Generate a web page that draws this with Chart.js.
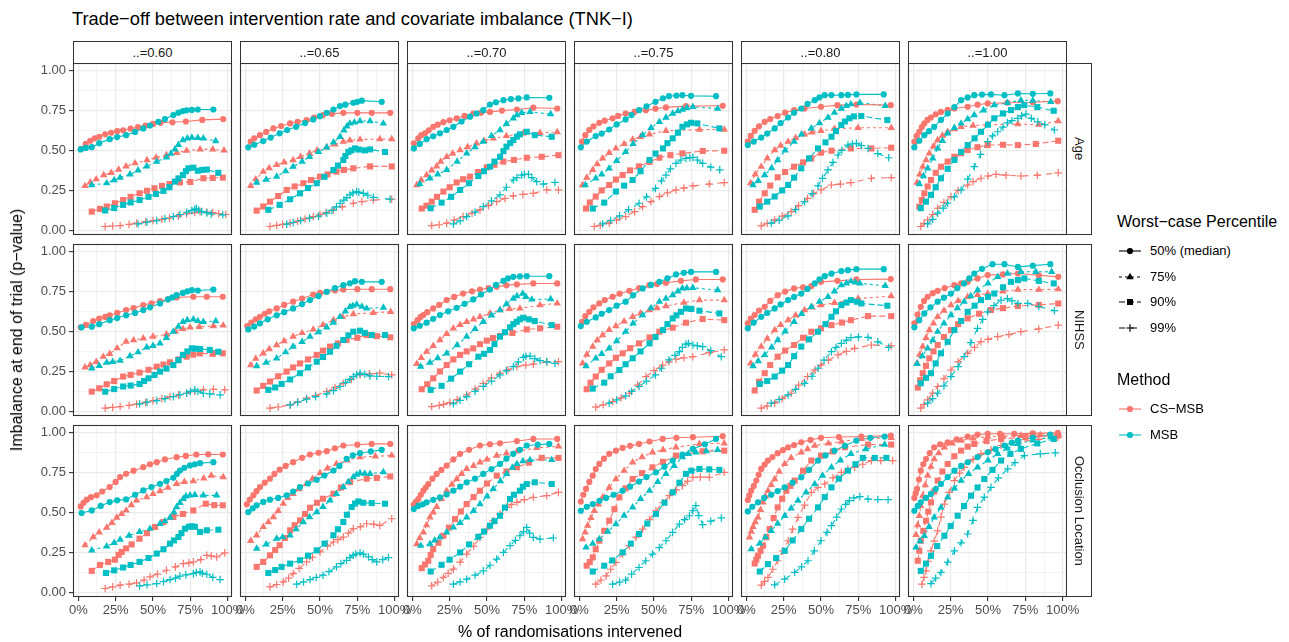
<!DOCTYPE html>
<html><head><meta charset="utf-8">
<script src="https://cdn.jsdelivr.net/npm/chart.js@4.4.0/dist/chart.umd.min.js"></script>
<style>
html,body{margin:0;padding:0;background:#fff;}
body{width:1289px;height:642px;position:relative;overflow:hidden;font-family:"Liberation Sans",Arial,sans-serif;}
canvas{position:absolute;}
.t{position:absolute;white-space:nowrap;}
.strip{position:absolute;box-sizing:border-box;border:1px solid #333;background:#fff;color:#1A1A1A;font-size:13px;display:flex;align-items:center;justify-content:center;}
</style></head><body>
<script>
// ---------------- DATA ----------------
const thresholds = ['0.60','0.65','0.70','0.75','0.80','1.00'];
const covariates = ['Age','NIHSS','Occlusion Location'];
const percentiles = ['50% (median)','75%','90%','99%'];
const methods = ['CS\u2212MSB','MSB'];
const xTickValues = [0,25,50,75,100];
const yTickValues = [0,0.25,0.5,0.75,1];

// each array: [p50, p75, p90, p99], each a list of [x (% intervened), y (p-value)]
const age060cs = [
 [[2,.51],[5,.54],[8,.56],[11,.575],[14,.585],[18,.60],[22,.61],[26,.62],[30,.625],[35,.635],[40,.645],[45,.655],[50,.665],[55,.672],[63,.675],[72,.68],[83,.69],[97,.695]],
 [[4.5,.278],[8,.30],[12,.32],[17,.346],[22,.36],[27,.38],[32,.40],[38,.42],[46,.44],[52,.455],[59,.47],[66,.485],[72.5,.498],[81.5,.506],[90,.506],[97.5,.50]],
 [[9,.118],[14.5,.135],[19,.15],[24.5,.17],[30,.19],[35,.21],[41,.232],[46,.248],[51,.263],[56,.278],[61,.29],[68,.30],[75,.303],[83.7,.326],[90,.328],[96.7,.33]],
 [[18,.025],[23,.028],[28,.031],[34,.038],[39,.046],[45,.055],[50,.062],[56,.07],[61,.077],[67,.09],[72.5,.104],[78,.112],[81.5,.118],[86,.115],[90,.112],[94,.105],[98.7,.10]]];
const age060msb = [
 [[1.6,.506],[5,.515],[9,.52],[14,.545],[21,.57],[26,.583],[32,.595],[38,.615],[43.5,.637],[48,.655],[53.6,.678],[58,.695],[63.6,.72],[67,.735],[70,.745],[72.5,.75],[76,.752],[80,.755],[90.4,.755]],
 [[9,.284],[19,.295],[24,.315],[28,.33],[34.6,.35],[40,.375],[45.8,.40],[52.5,.43],[59,.456],[62,.48],[64.7,.506],[67,.535],[70,.564],[73,.575],[76,.58],[80,.578],[83.7,.575],[92,.558]],
 [[18,.125],[24,.14],[30,.16],[35,.175],[41,.19],[47,.21],[52,.228],[57,.247],[61,.27],[64.7,.305],[67,.325],[70,.346],[72,.37],[73.7,.388],[77,.392],[80,.373],[83,.378],[86,.38],[93.7,.36]],
 [[40,.041],[46,.052],[52.5,.062],[58,.075],[63.6,.087],[68,.10],[72.5,.114],[76,.125],[78,.132],[79,.139],[80.5,.128],[82.6,.118],[86,.11],[89,.104],[96.7,.098]]];
const age065cs = [
 [[3.6,.554],[6,.575],[9.8,.595],[14,.615],[18.8,.637],[24,.652],[30,.668],[35,.678],[41,.689],[46,.705],[52,.72],[58,.728],[65.6,.734],[75,.734],[84.6,.734],[97,.734]],
 [[3.6,.278],[7,.32],[12,.367],[16,.39],[21,.409],[26,.425],[32,.44],[37,.46],[43,.481],[48,.50],[54.5,.519],[60,.537],[65.6,.554],[70,.562],[76.8,.568],[90,.57],[98,.57]],
 [[7.6,.124],[12,.15],[16.5,.18],[22,.215],[27.7,.253],[33,.275],[38.8,.295],[44,.315],[50,.336],[55,.35],[61,.367],[66,.378],[72.3,.388],[83.5,.40],[98,.40]],
 [[16.5,.025],[21,.032],[25,.038],[30,.046],[35,.058],[40,.072],[45.5,.087],[50,.10],[54,.112],[59,.129],[65,.148],[72.3,.17],[78,.18],[85.7,.19],[98,.195]]];
const age065msb = [
 [[2,.519],[6,.535],[12,.558],[17,.58],[23,.606],[28,.627],[34,.647],[40,.67],[45.5,.693],[50,.713],[54.5,.734],[59,.755],[63.4,.776],[67,.785],[72.3,.797],[75,.803],[78,.81],[91.3,.803]],
 [[7.6,.299],[14,.318],[21,.336],[27,.37],[32,.398],[38,.43],[43,.46],[49,.49],[54.5,.519],[59,.55],[63.4,.585],[66,.625],[68,.65],[70,.668],[73,.675],[76.8,.683],[83.5,.683],[92.4,.668]],
 [[15.4,.129],[23,.16],[30,.195],[36.6,.232],[42,.265],[47.8,.295],[53,.335],[59,.378],[62,.405],[65.6,.44],[67,.465],[69,.49],[71,.50],[73.4,.512],[76,.505],[80,.50],[83.5,.506],[93.5,.49]],
 [[27.7,.04],[32,.05],[37,.062],[43,.077],[49,.09],[54.5,.108],[58,.125],[61,.148],[63.4,.17],[66,.19],[68,.205],[70,.222],[72,.235],[74.5,.243],[76,.238],[79,.232],[82,.22],[85.7,.207],[96.9,.195]]];
const age070cs = [
 [[1,.544],[4,.575],[6,.595],[8.5,.606],[11,.625],[14,.647],[17,.66],[20.8,.676],[25,.688],[29.7,.70],[35,.715],[40.8,.73],[46,.735],[52,.74],[60,.748],[70,.755],[81,.766],[97,.761]],
 [[3,.284],[6,.315],[9.6,.346],[13,.375],[16.3,.40],[19,.43],[23,.46],[27,.48],[32,.502],[37,.52],[43,.544],[48,.56],[54.2,.575],[63,.59],[74.3,.606],[85.5,.61],[97,.614]],
 [[6.3,.137],[9.5,.155],[13,.18],[16.5,.21],[20.8,.243],[25,.27],[29.7,.30],[34,.32],[38.6,.336],[44,.365],[49.8,.394],[55,.41],[61,.43],[68,.44],[76.6,.454],[86.6,.46],[97.8,.47]],
 [[13,.031],[18,.036],[23,.046],[28,.065],[34,.087],[40,.108],[45.3,.129],[51,.155],[56.5,.18],[62,.2],[67.6,.216],[74,.225],[81,.232],[90,.253],[97.8,.253]]];
const age070msb = [
 [[1,.512],[5,.54],[9.6,.57],[14,.588],[18.5,.606],[23,.627],[27.5,.647],[33,.68],[38.6,.71],[43,.73],[47.5,.751],[52,.786],[56,.80],[61,.813],[66,.82],[71,.824],[76.6,.83],[91.7,.828]],
 [[5,.29],[11.8,.326],[17,.35],[23,.378],[30,.43],[36.4,.481],[42,.52],[47.5,.554],[53,.59],[58.7,.627],[63,.665],[67.6,.70],[70,.72],[73.2,.734],[78.8,.74],[92.6,.726]],
 [[12.3,.139],[19.6,.174],[26,.21],[32,.253],[38,.295],[44.2,.34],[48,.37],[52,.398],[55,.43],[58.7,.46],[61,.495],[63,.523],[65.5,.545],[67.6,.564],[70,.585],[72,.60],[76.6,.616],[82,.595],[93.3,.585]],
 [[27.5,.041],[32,.06],[36.4,.087],[42,.115],[47.5,.149],[53,.185],[58.7,.222],[63,.27],[67.6,.315],[70,.33],[73.2,.346],[75,.35],[77.7,.35],[80,.33],[83.3,.305],[87.7,.29],[95.5,.30]]];
const age075cs = [
 [[1.8,.554],[4,.595],[6.7,.627],[9.5,.65],[13.4,.672],[17,.685],[22.3,.70],[26,.715],[31,.73],[37,.74],[44.6,.751],[51,.76],[58,.768],[71.4,.776],[96,.778]],
 [[2.2,.284],[5,.33],[9,.378],[12,.415],[15.6,.45],[20,.485],[24.5,.512],[30,.54],[35.7,.568],[41,.585],[47,.60],[58,.622],[80.4,.63],[97,.63]],
 [[4.5,.137],[7,.175],[11,.212],[15,.25],[20,.284],[24.5,.318],[29,.346],[34,.375],[40,.40],[47,.428],[53.6,.454],[61,.47],[69,.481],[82.6,.496],[97,.498]],
 [[10,.025],[14,.032],[20,.046],[25,.065],[31,.087],[37,.118],[42.4,.149],[48,.18],[53.6,.212],[59,.235],[64.7,.253],[70,.265],[76,.278],[87,.29],[97,.299]]];
const age075msb = [
 [[1,.519],[5,.555],[11,.589],[15,.605],[20,.63],[25,.662],[31,.693],[35,.72],[40,.751],[45,.775],[51,.803],[56,.825],[60,.838],[65,.842],[69,.844],[74.8,.84],[91.5,.838]],
 [[4,.284],[11,.326],[15,.35],[20,.388],[25,.435],[31,.49],[36,.54],[42.4,.595],[48,.64],[53.6,.678],[58,.705],[62.5,.73],[66,.745],[69,.755],[72,.765],[76,.772],[92.6,.76]],
 [[9,.137],[16.7,.174],[24.5,.243],[30,.28],[35.7,.315],[41,.37],[47,.44],[51,.48],[56,.512],[59,.545],[62.5,.575],[66,.61],[69,.647],[72,.662],[74.8,.672],[79,.668],[93.75,.637]],
 [[15.6,.041],[21,.062],[27,.091],[33,.13],[40,.17],[45,.21],[51,.263],[55,.31],[58,.346],[61,.385],[64.7,.419],[68,.44],[71.4,.45],[74,.455],[76,.456],[79,.44],[82.6,.419],[88,.395],[94,.378]]];
const age080cs = [
 [[1,.554],[3,.59],[5.6,.622],[8.5,.65],[12.3,.678],[16,.695],[21,.714],[26,.735],[32,.751],[39,.761],[50,.772],[61,.782],[73.7,.786],[96.7,.782]],
 [[2.9,.295],[6,.35],[10,.398],[14,.45],[19,.502],[23,.53],[28,.554],[33,.578],[39,.60],[44,.612],[50,.622],[59,.635],[74.8,.641],[97,.641]],
 [[5.6,.129],[8.5,.18],[12.3,.232],[16,.28],[21,.332],[26,.365],[32,.398],[38,.425],[43.5,.45],[50,.486],[57,.498],[70,.512],[83.7,.512],[97,.517]],
 [[10,.029],[14,.045],[19,.066],[24,.09],[30,.118],[35,.155],[41,.20],[45,.23],[50,.253],[57,.284],[63,.29],[70,.299],[83.7,.326],[97,.33]]];
const age080msb = [
 [[1,.533],[5,.555],[10,.58],[14,.605],[19,.637],[23,.67],[28,.705],[32,.735],[36.8,.761],[41,.79],[45.8,.813],[49,.83],[52.5,.844],[57,.845],[63.6,.844],[68,.846],[73.7,.849],[92,.849]],
 [[4.5,.284],[8,.31],[12.3,.346],[17,.39],[21,.44],[26,.50],[32,.554],[37,.60],[43.5,.637],[49,.67],[54.7,.705],[59,.735],[63.6,.761],[67,.778],[70,.788],[76,.797],[93,.778]],
 [[9,.149],[14,.18],[19,.212],[24,.25],[28,.284],[32,.33],[36.8,.388],[42,.45],[48,.512],[53,.55],[57,.585],[60,.62],[63.6,.658],[66,.68],[69,.70],[72,.712],[77,.714],[94.4,.689]],
 [[16.7,.046],[22,.065],[28,.091],[33,.13],[39,.18],[44,.23],[48,.278],[51,.325],[54.7,.378],[58,.425],[61.4,.471],[64,.50],[68,.533],[71,.54],[73.7,.544],[77,.53],[81.5,.512],[88,.48],[95.3,.454]]];
const age100cs = [
 [[0.7,.554],[2.3,.59],[4,.616],[5.7,.645],[7.4,.668],[9.5,.69],[11.8,.705],[15,.725],[18.5,.74],[23,.752],[27.5,.761],[36.4,.772],[43,.785],[49.8,.793],[63,.797],[80,.80],[96.7,.807]],
 [[2.5,.299],[4.3,.35],[6.3,.398],[8.5,.44],[10.7,.481],[13.5,.525],[16.3,.564],[19.5,.592],[23,.616],[27.5,.632],[32,.647],[40,.655],[49.8,.66],[70,.664],[84,.66],[97,.683]],
 [[4,.149],[5.7,.19],[7.4,.232],[9.6,.275],[11.8,.315],[15,.36],[18.5,.398],[23,.43],[27.5,.46],[32,.482],[36.4,.502],[43,.52],[49.8,.533],[60,.535],[70,.533],[82,.54],[97,.56]],
 [[5,.025],[7.2,.045],[9.6,.066],[13,.10],[16.3,.139],[20.5,.175],[25.2,.212],[30,.25],[36.4,.284],[40,.305],[45.3,.326],[50,.34],[55.4,.35],[62,.345],[72,.34],[83,.345],[97,.36]]];
const age100msb = [
 [[0.7,.519],[4,.56],[7.4,.595],[10.5,.62],[14,.647],[18.5,.69],[23,.73],[27.5,.77],[32,.813],[36.4,.83],[40.8,.844],[46,.848],[52,.849],[61,.844],[70,.855],[80,.853],[91.7,.855]],
 [[4,.29],[6.8,.34],[9.6,.388],[13,.45],[16.3,.512],[19.5,.56],[23,.606],[27.5,.64],[32,.668],[36.4,.695],[40.8,.72],[47,.75],[54.2,.782],[63,.797],[72,.813],[80,.81],[92,.803]],
 [[5,.139],[8.5,.18],[11.8,.222],[15,.27],[18.5,.326],[23,.385],[27.5,.44],[32,.49],[36.4,.533],[41,.575],[45.3,.616],[50,.66],[54.2,.70],[60,.73],[65.4,.751],[70,.77],[74.3,.782],[83,.77],[94,.747]],
 [[9.6,.041],[13,.07],[16.3,.108],[20,.14],[23,.17],[27.5,.21],[32,.253],[36.4,.32],[40.8,.398],[45,.475],[49.8,.554],[53,.59],[56.5,.616],[60,.645],[63,.672],[66,.685],[70,.70],[72.5,.715],[75.4,.726],[79,.70],[83.3,.678],[88,.66],[94.4,.627]]];

const nih060cs = [
 [[1.6,.525],[5,.54],[10,.564],[14,.58],[18,.59],[21,.60],[26,.615],[32,.633],[37,.645],[43.5,.664],[49,.675],[54.7,.689],[60,.70],[65.8,.712],[77,.716],[86,.716],[96.7,.716]],
 [[4.5,.276],[8,.29],[12,.31],[16.7,.342],[21,.36],[26,.395],[32,.436],[37,.445],[43.5,.456],[50,.468],[59,.481],[65,.50],[70,.515],[74.8,.525],[81,.528],[90.4,.533],[97,.537]],
 [[9,.124],[14,.145],[19,.17],[24,.19],[30,.218],[35,.228],[41,.243],[47,.26],[52.5,.28],[57,.293],[61.4,.307],[67,.325],[72.5,.342],[77,.355],[81.5,.363],[90,.36],[96.7,.363]],
 [[18,.021],[23,.026],[28,.031],[34,.038],[39,.046],[45,.057],[50,.068],[56,.08],[61.4,.093],[67,.103],[72.5,.114],[78,.125],[83.7,.135],[90.4,.139],[98,.135]]];
const nih060msb = [
 [[2.2,.525],[9,.529],[14,.545],[21,.57],[26,.583],[32,.60],[38,.615],[43.5,.633],[48,.65],[54.7,.674],[60,.70],[63,.712],[65.8,.726],[70,.74],[73,.75],[76,.757],[80,.755],[90.4,.761]],
 [[9,.27],[14,.285],[19,.305],[23,.31],[28,.317],[34.6,.346],[40,.37],[45.8,.40],[50,.41],[54.7,.425],[59,.46],[63.6,.498],[67,.53],[70,.56],[73,.57],[77,.575],[80,.565],[83.7,.56],[92,.564]],
 [[18,.124],[24,.14],[30,.156],[35,.162],[41,.172],[44,.19],[47,.207],[51,.228],[54.7,.249],[59,.268],[63.6,.29],[67,.32],[70,.353],[73,.375],[76,.394],[78,.392],[81.5,.39],[88,.384],[93.7,.373]],
 [[41,.048],[46,.058],[52.5,.068],[58,.08],[63.6,.093],[68,.105],[72.5,.114],[75,.125],[78,.135],[80,.125],[83.7,.114],[88,.11],[94.9,.104]]];
const nih065cs = [
 [[1.3,.533],[4,.555],[7,.575],[9.8,.591],[13,.61],[16,.625],[21,.643],[26,.665],[32,.685],[38,.705],[45.5,.73],[50,.74],[54.5,.747],[60,.755],[65.6,.761],[75,.763],[84.6,.763],[97,.763]],
 [[3.6,.29],[7,.33],[12,.363],[16,.39],[21,.415],[26,.44],[32,.467],[38,.49],[45.5,.512],[52,.54],[59,.57],[65,.59],[72.3,.608],[85.7,.616],[97.3,.622]],
 [[7.6,.131],[12,.16],[16.5,.187],[22,.22],[27.7,.249],[32,.275],[36.6,.30],[42,.325],[47.8,.353],[52,.38],[56.7,.405],[62,.425],[67.8,.446],[75,.46],[81.2,.477],[88,.47],[97,.463]],
 [[16.5,.021],[22,.028],[30,.041],[35,.06],[41,.083],[47,.10],[54.5,.124],[60,.15],[65.6,.176],[71,.20],[76.8,.228],[83,.235],[90,.239],[98,.228]]];
const nih065msb = [
 [[2,.512],[6,.53],[9.8,.55],[15,.575],[21,.60],[26,.62],[32,.643],[38,.67],[43.3,.695],[49,.72],[54.5,.747],[60,.77],[65.6,.788],[70,.80],[73.4,.813],[78,.809],[91.3,.809]],
 [[7.6,.284],[14,.305],[21,.332],[27,.37],[32,.405],[38,.435],[43.3,.467],[49,.495],[54.5,.525],[59,.555],[63.4,.591],[67,.625],[70,.653],[72,.66],[74.6,.668],[78,.655],[81.2,.643],[92.4,.649]],
 [[15.4,.135],[20,.15],[24.3,.172],[30,.20],[36.6,.239],[42,.275],[47.8,.311],[52,.34],[56.7,.373],[61,.41],[65.6,.446],[69,.475],[72.3,.498],[76.8,.504],[80,.49],[84.6,.477],[93.5,.477]],
 [[30,.041],[35,.058],[41,.077],[47,.093],[54.5,.11],[59,.13],[63.4,.156],[67,.18],[70,.20],[72.3,.218],[74.5,.23],[76.8,.239],[80,.232],[83.5,.222],[88,.22],[95.8,.218]]];
const nih070cs = [
 [[1,.546],[3.5,.57],[5.5,.59],[7.4,.602],[10,.62],[14,.643],[18,.665],[23,.695],[28,.715],[34,.736],[40,.75],[45.3,.761],[51,.77],[56.5,.778],[63,.787],[70,.793],[81,.799],[97,.799]],
 [[3,.297],[6,.335],[9.6,.373],[14,.41],[18.5,.446],[23,.485],[27.5,.519],[32,.54],[36.4,.56],[41,.575],[45.3,.591],[52,.612],[58.7,.633],[65,.64],[72,.643],[85.5,.664],[97,.674]],
 [[6.3,.139],[10,.17],[14,.207],[18.5,.25],[23,.29],[27.5,.325],[32,.353],[36.4,.375],[40.8,.394],[45.3,.42],[49.8,.442],[54,.458],[58.7,.471],[67,.49],[76.6,.512],[85.5,.519],[97,.529]],
 [[13,.031],[18,.038],[21,.045],[25.2,.056],[30,.075],[36.4,.104],[42,.14],[47.5,.176],[53,.21],[58.7,.239],[64,.26],[70,.28],[76,.29],[81,.295],[90,.311],[97.8,.311]]];
const nih070msb = [
 [[1,.519],[5,.535],[9.6,.554],[14,.578],[18.5,.602],[24,.625],[29.7,.647],[35,.672],[40.8,.699],[46,.73],[52,.761],[56,.79],[61,.815],[64,.83],[67.6,.84],[72,.843],[76.6,.844],[91.7,.844]],
 [[5.6,.28],[11.8,.305],[17,.333],[23,.363],[30,.415],[36.4,.467],[42,.515],[47.5,.56],[53,.60],[58.7,.633],[63,.67],[67.6,.705],[70,.72],[73.9,.736],[76,.715],[80,.699],[92.6,.701]],
 [[12.3,.135],[19.6,.16],[26,.205],[32,.249],[38,.295],[44.2,.342],[48,.36],[52,.384],[55,.42],[58.7,.467],[62,.495],[65.4,.525],[67.6,.545],[69.9,.56],[72,.575],[74.3,.585],[78,.575],[82,.564],[93.3,.539]],
 [[27.5,.048],[32,.07],[36.4,.093],[42,.125],[47.5,.156],[53,.19],[58.7,.228],[63,.255],[67.6,.28],[71,.31],[74.3,.338],[76,.345],[78.8,.346],[82,.33],[85.5,.317],[90,.31],[95.5,.30]]];
const nih075cs = [
 [[1.8,.56],[4,.595],[6.7,.622],[9.5,.65],[13.4,.674],[17,.695],[22.3,.716],[27,.735],[33.5,.753],[40,.77],[46.9,.788],[52,.795],[58,.803],[68,.815],[78,.824],[96,.824]],
 [[2.2,.30],[5,.355],[9,.405],[12,.445],[15.6,.477],[20,.51],[24.5,.533],[30,.562],[35.7,.591],[41,.612],[47,.633],[52,.645],[58,.658],[70,.68],[80.4,.695],[97,.695]],
 [[4.9,.139],[7.5,.18],[11,.218],[15,.26],[20,.30],[24.5,.335],[29,.363],[34,.395],[40,.425],[47,.462],[53.6,.498],[62.5,.523],[71.4,.554],[82.6,.577],[97,.57]],
 [[11,.027],[16,.042],[22.3,.062],[28,.085],[33.5,.114],[39,.165],[44.6,.218],[50,.255],[55.8,.29],[60,.31],[64.7,.326],[70,.335],[76,.342],[87,.367],[97,.384]]];
const nih075msb = [
 [[1,.533],[5,.56],[11,.587],[15,.61],[20,.633],[25,.66],[31,.685],[36,.725],[42.4,.768],[48,.79],[53.6,.809],[59,.83],[64.7,.855],[70,.865],[74.8,.871],[91.5,.871]],
 [[4.5,.284],[11,.332],[15,.36],[20,.394],[25,.44],[31,.498],[36,.55],[42.4,.602],[48,.645],[53.6,.685],[58,.705],[62.5,.726],[66,.75],[69,.768],[72,.77],[76,.772],[92.6,.757]],
 [[9,.143],[16.7,.18],[21,.22],[26.8,.259],[31,.295],[35.7,.332],[41,.375],[47,.425],[51,.465],[56,.508],[59,.545],[62.5,.581],[65,.60],[68,.622],[71.4,.643],[75,.64],[80.4,.629],[93.75,.612]],
 [[20,.052],[25,.072],[31,.098],[35,.125],[40,.156],[45,.19],[51,.228],[55,.27],[60,.322],[64,.35],[67,.373],[69,.40],[71.4,.421],[73,.425],[76,.415],[79,.41],[82.6,.405],[88,.38],[95,.342]]];
const nih080cs = [
 [[1,.55],[3,.58],[5.6,.602],[8.5,.63],[12.3,.653],[16,.69],[21,.726],[26,.748],[32,.768],[38,.775],[43.5,.782],[50,.809],[61,.815],[73.7,.824],[96.7,.826]],
 [[2.9,.30],[6,.355],[10,.405],[14,.455],[19,.508],[23,.54],[28,.57],[33,.60],[39,.633],[44,.65],[50,.664],[59,.678],[74.8,.705],[97,.72]],
 [[5.6,.131],[8.5,.185],[12.3,.239],[16,.29],[21,.342],[26,.38],[32,.415],[38,.46],[43.5,.498],[50,.519],[57,.539],[64,.555],[70,.57],[81.5,.595],[97,.595]],
 [[10,.021],[14,.035],[19,.052],[24,.08],[30,.114],[35,.165],[41,.218],[46,.26],[50,.29],[55,.32],[61.4,.353],[67,.375],[72.5,.394],[83.7,.415],[97,.409]]];
const nih080msb = [
 [[1,.519],[5,.555],[10,.591],[14,.615],[19,.643],[23,.668],[28,.695],[32,.715],[36.8,.736],[41,.765],[45.8,.799],[49,.825],[52.5,.844],[57,.86],[63.6,.876],[68,.882],[73.7,.888],[92,.888]],
 [[4.5,.284],[8,.315],[12.3,.353],[17,.40],[21,.446],[26,.50],[32,.56],[37,.61],[43.5,.653],[49,.685],[54.7,.716],[59,.75],[63.6,.788],[67,.80],[70,.813],[73,.805],[76,.799],[93,.784]],
 [[9,.172],[14,.19],[19,.218],[24,.255],[28,.29],[32,.345],[36.8,.405],[42,.45],[48,.498],[53,.545],[57,.591],[60,.625],[63.6,.664],[67,.68],[70,.695],[74,.685],[77,.674],[94.4,.66]],
 [[16.7,.052],[22,.075],[28,.104],[33,.138],[39,.176],[44,.22],[48,.27],[52,.32],[57,.373],[60,.40],[63.6,.425],[67,.445],[70,.461],[75,.465],[81.5,.463],[88,.435],[95.3,.40]]];
const nih100cs = [
 [[0.7,.55],[2.8,.605],[5,.653],[7.2,.69],[9.6,.716],[13,.738],[16.3,.753],[21,.77],[27.5,.788],[32,.80],[36.4,.809],[43,.83],[49.8,.851],[60,.855],[70,.861],[84,.85],[97,.84]],
 [[2.5,.30],[4.3,.355],[6.3,.405],[8.5,.46],[10.7,.508],[13.5,.55],[16.3,.591],[20.5,.63],[25.2,.664],[30,.69],[36.4,.716],[43,.728],[49.8,.736],[60,.75],[70,.761],[84,.76],[97,.763]],
 [[3,.149],[4.6,.195],[6.3,.239],[8.5,.285],[10.7,.332],[13.5,.375],[16.3,.415],[20.5,.465],[25.2,.508],[30,.545],[36.4,.581],[44,.61],[52,.633],[60,.645],[70,.658],[84,.665],[97,.674]],
 [[5,.021],[7.2,.045],[9.6,.073],[13,.115],[16.3,.156],[20.5,.205],[25.2,.259],[30,.31],[36.4,.363],[41,.40],[45.3,.436],[50,.45],[56.5,.467],[64,.48],[72,.498],[84,.515],[97,.539]]];
const nih100msb = [
 [[0.7,.525],[4,.57],[7.4,.612],[11.5,.65],[16.3,.685],[20.5,.71],[25.2,.736],[29.5,.77],[34,.799],[37.5,.83],[40.8,.861],[46,.89],[53,.919],[61,.919],[70,.902],[80,.91],[91.7,.919]],
 [[2.5,.297],[6,.345],[9.6,.394],[13,.445],[16.3,.498],[20.5,.55],[25.2,.602],[29.5,.645],[34,.685],[38.5,.72],[43,.757],[50,.80],[56.5,.84],[63,.861],[72,.871],[82,.872],[92.6,.871]],
 [[5,.176],[8.5,.21],[11.8,.239],[15,.30],[18.5,.363],[23,.435],[27.5,.508],[32,.565],[36.4,.622],[41,.66],[45.3,.695],[50,.715],[54.2,.736],[60,.775],[65.4,.809],[70,.82],[74.3,.83],[84,.815],[94,.799]],
 [[9.6,.052],[13,.08],[16.3,.114],[20.5,.16],[25.2,.218],[30,.28],[34,.342],[38.5,.43],[43,.519],[46.5,.575],[49.8,.622],[54,.66],[58.7,.695],[63,.705],[66,.69],[70,.674],[76.6,.674],[84,.655],[94.4,.629]]];

const occ060cs = [
 [[1.6,.537],[3.5,.56],[5.6,.579],[8.5,.595],[12.3,.606],[16,.63],[21,.658],[25,.69],[28,.72],[32,.741],[37,.76],[43.5,.782],[48,.8],[52.5,.813],[58,.83],[65.8,.844],[72,.852],[79,.861],[87,.862],[96.7,.861]],
 [[4.5,.295],[10,.346],[14,.375],[19,.405],[22.5,.435],[25.7,.467],[29,.49],[32,.512],[35.5,.545],[39,.575],[45.8,.595],[50,.615],[54.7,.633],[60,.655],[65.8,.678],[71,.69],[77,.695],[84,.712],[89,.73],[97,.72]],
 [[9,.135],[14.5,.172],[20,.191],[24.5,.205],[27,.235],[29,.253],[32,.275],[35.7,.30],[41,.336],[46,.37],[51.3,.409],[57,.44],[63.6,.471],[70,.49],[77,.512],[85.3,.554],[91,.545],[96.7,.544]],
 [[18,.025],[23,.035],[28,.046],[34,.052],[39,.06],[44,.078],[48,.098],[53,.115],[59,.139],[65,.16],[70.3,.18],[74,.185],[77,.191],[82,.205],[86,.232],[89,.228],[92.6,.222],[98,.247]]];
const occ060msb = [
 [[2.2,.496],[9,.512],[15,.54],[21,.564],[26,.575],[32,.581],[38,.61],[43.5,.637],[49,.658],[54.7,.678],[59,.695],[63.6,.716],[66,.74],[68,.761],[71,.778],[74.8,.793],[78,.80],[81.5,.807],[90.4,.813]],
 [[9,.263],[19,.288],[24,.31],[28,.33],[34,.355],[41,.378],[48,.398],[54.7,.429],[58,.445],[61.4,.467],[64,.50],[65.8,.533],[68,.56],[70.3,.585],[72,.60],[74.8,.606],[78,.61],[83.7,.606],[92.6,.606]],
 [[18.5,.122],[24,.138],[30,.156],[35,.172],[41,.191],[47,.215],[52.5,.243],[57,.27],[61.4,.305],[64,.325],[67,.346],[69,.37],[71.4,.398],[74,.41],[76,.413],[78,.41],[81.5,.378],[86,.388],[93.75,.392]],
 [[41,.041],[46,.048],[52.5,.056],[57,.068],[61.4,.081],[65,.09],[68,.102],[72,.11],[77,.118],[79,.125],[81.5,.129],[83,.12],[86,.114],[90,.095],[94.9,.081]]];
const occ065cs = [
 [[1,.55],[3,.58],[5.4,.606],[7.5,.632],[9.8,.658],[13,.685],[16.5,.71],[19.5,.74],[23,.766],[27,.79],[32,.813],[38,.84],[43.3,.861],[49,.872],[54.5,.882],[60,.90],[65.6,.917],[75,.922],[84.6,.927],[97,.927]],
 [[3.6,.322],[7.6,.357],[12,.409],[15.5,.44],[18.8,.471],[22,.51],[25.4,.554],[28.5,.59],[32,.616],[36,.645],[41,.678],[45,.71],[50,.745],[55,.775],[61,.803],[68,.825],[76.8,.844],[87,.85],[98,.855]],
 [[7.6,.16],[12,.191],[16.5,.232],[20,.265],[23,.295],[26.5,.34],[30,.388],[33,.42],[36.6,.45],[40,.49],[43.3,.529],[48,.56],[52,.585],[59,.616],[64,.655],[70,.689],[81.2,.71],[88,.715],[97,.724]],
 [[16.5,.035],[21,.05],[25.4,.066],[29,.09],[32,.118],[36,.15],[41,.191],[45,.22],[50,.253],[55,.29],[59,.315],[62,.33],[65.6,.346],[69,.37],[72.3,.398],[77,.41],[81.2,.429],[86,.425],[90,.419],[98,.46]]];
const occ065msb = [
 [[2,.502],[5,.525],[7.6,.544],[12,.565],[16.5,.579],[22,.59],[27.7,.606],[32,.63],[36.6,.658],[42,.68],[47.8,.703],[53,.73],[59,.761],[63,.79],[67.8,.834],[72,.855],[76.8,.869],[84,.88],[91.3,.89]],
 [[7.6,.274],[14,.30],[21,.336],[25,.345],[30,.357],[34,.395],[38.8,.44],[43,.47],[47.8,.502],[52,.535],[56.7,.575],[61,.615],[65.6,.658],[69,.69],[72.3,.72],[74.5,.735],[76.8,.745],[80,.742],[83.5,.741],[92.4,.751]],
 [[15.4,.122],[20,.14],[24.3,.16],[30,.18],[36.6,.201],[42,.23],[47.8,.263],[53,.305],[59,.357],[62,.395],[65.6,.44],[68,.485],[71.2,.533],[73.5,.555],[75.7,.568],[79,.56],[84.6,.558],[93.5,.554]],
 [[34.4,.052],[39,.066],[43.3,.081],[47.5,.095],[52,.108],[56,.13],[61,.16],[64,.18],[67.8,.201],[70,.218],[72.3,.232],[74,.24],[76.8,.247],[79,.24],[82.4,.222],[85,.205],[88,.191],[92,.205],[95.8,.218]]];
const occ070cs = [
 [[1,.548],[2.5,.565],[4,.583],[5.7,.61],[7.4,.635],[9,.655],[10.7,.677],[13.5,.71],[16.3,.74],[19.5,.765],[23,.792],[27.5,.83],[32,.865],[38,.89],[45.3,.917],[52,.925],[58.7,.931],[70,.945],[81,.958],[97,.958]],
 [[3,.302],[5,.34],[7.4,.375],[9.5,.42],[11.8,.469],[14,.50],[16.3,.535],[19.5,.585],[23,.635],[26.5,.675],[29.7,.708],[33,.74],[36.4,.771],[41,.79],[45.3,.8125],[50,.83],[56.5,.854],[63,.868],[70,.881],[83.3,.902],[97.8,.9125]],
 [[6.3,.152],[8.5,.175],[10.7,.198],[12.3,.235],[14,.271],[17.5,.31],[20.8,.354],[24.5,.405],[28.6,.458],[32.5,.505],[36.4,.552],[41,.595],[45.3,.635],[50,.68],[56.5,.729],[63,.755],[70,.781],[78,.81],[86.6,.84],[97.8,.84]],
 [[13,.042],[17,.065],[20.8,.094],[24,.12],[27.5,.146],[32,.19],[36.4,.24],[41,.29],[45.3,.344],[50,.395],[54.2,.448],[58.7,.49],[63.2,.531],[66.5,.55],[70,.5625],[75,.58],[81,.594],[90,.604],[97.8,.625]]];
const occ070msb = [
 [[1,.521],[4,.54],[7,.55],[9.6,.5625],[14,.578],[18.5,.594],[23,.612],[27.5,.635],[32,.66],[36.4,.6875],[42,.71],[47.5,.74],[53,.77],[58.7,.802],[63,.835],[67.6,.865],[72,.89],[76.6,.917],[84,.922],[91.7,.927]],
 [[5.6,.292],[11.8,.302],[15,.325],[18.5,.344],[23,.375],[27.5,.406],[32,.435],[36.4,.469],[41,.51],[45.3,.552],[50,.6],[54.2,.646],[59,.695],[63.2,.74],[67,.78],[70,.802],[74,.82],[78.8,.827],[93.3,.827]],
 [[12.3,.131],[19.6,.173],[25,.205],[32,.25],[38,.30],[44.2,.348],[48,.38],[52,.417],[55,.445],[58.7,.479],[62,.53],[65.4,.583],[68,.61],[72,.635],[74,.66],[76.6,.677],[82,.6875],[93.3,.677]],
 [[27.5,.052],[32,.066],[36.4,.083],[42,.108],[47.5,.135],[52,.17],[56.5,.208],[61,.25],[65.4,.292],[69,.325],[72,.354],[74.5,.38],[76.6,.406],[78.5,.37],[81,.344],[85.5,.333],[94.4,.34]]];
const occ075cs = [
 [[1,.567],[2.7,.61],[4.5,.646],[6.7,.69],[9,.729],[11,.77],[13.4,.802],[16.5,.835],[20,.865],[24.5,.885],[29,.902],[34,.915],[40,.927],[47,.942],[55.8,.958],[65,.965],[76,.969],[96,.975]],
 [[2.2,.333],[3.9,.375],[5.6,.417],[7.8,.465],[10,.51],[12.8,.55],[15.6,.594],[20,.655],[24.5,.708],[30,.76],[35.7,.8125],[42,.845],[49,.875],[56,.89],[64.7,.906],[80.4,.927],[97,.931]],
 [[4.9,.167],[7,.19],[9,.219],[11,.27],[13.4,.323],[16.7,.385],[20,.448],[23.5,.52],[26.8,.594],[31,.65],[35.7,.708],[42,.745],[49,.781],[56,.815],[64.7,.854],[82.6,.881],[97,.885]],
 [[11,.052],[14.5,.078],[17.9,.104],[21,.145],[24.5,.1875],[29,.24],[33.5,.292],[38,.345],[42.4,.396],[47,.455],[51.3,.51],[56,.56],[60.3,.604],[65,.64],[69,.667],[72.5,.695],[76,.719],[81,.72],[87,.719],[97,.75]]];
const occ075msb = [
 [[1,.51],[5,.535],[9,.552],[13.5,.572],[17.9,.59],[23,.61],[29,.635],[34,.66],[40,.692],[45,.72],[51.3,.75],[57,.785],[62.5,.823],[69,.86],[76,.896],[84,.925],[91.5,.958]],
 [[4.5,.281],[9,.305],[13.4,.333],[19,.38],[24.5,.427],[30,.48],[35.7,.531],[41,.585],[47,.635],[52.5,.69],[58,.74],[63.5,.79],[69,.844],[73,.865],[78,.875],[85,.882],[92.6,.89]],
 [[9,.131],[16.7,.167],[22,.20],[29,.25],[34.5,.305],[40,.365],[45.5,.43],[51.3,.49],[57,.56],[62.5,.625],[67,.685],[71.4,.74],[75,.76],[80.4,.771],[87,.768],[93.75,.765]],
 [[22.3,.052],[27,.065],[31,.077],[35,.115],[40,.156],[44.5,.198],[49,.24],[53.5,.28],[58,.323],[62.5,.375],[67,.427],[70.5,.455],[73.7,.479],[76,.51],[78,.542],[80,.48],[82.6,.423],[88,.445],[95,.465]]];
const occ080cs = [
 [[1,.577],[2,.605],[3.3,.635],[5,.665],[6.7,.698],[8.3,.735],[10,.771],[12.3,.798],[14.5,.823],[17.5,.845],[21,.869],[24.5,.888],[28,.906],[32,.92],[36.8,.9375],[43,.952],[50,.965],[62,.97],[77,.973],[96.7,.979]],
 [[2.2,.344],[3.3,.38],[4.5,.41],[6,.44],[7.8,.469],[9.5,.515],[11.2,.5625],[12.8,.6],[14.5,.635],[16.7,.672],[19,.708],[22,.755],[25.7,.802],[30,.84],[36.8,.875],[41,.895],[45.8,.917],[55,.93],[63.6,.942],[77,.958],[97,.965]],
 [[5.6,.181],[6.7,.205],[7.8,.229],[9.5,.26],[11.2,.292],[13.4,.345],[15.6,.396],[18.3,.465],[21,.531],[24,.585],[26.8,.635],[29.5,.665],[32.4,.698],[38,.76],[43.5,.823],[50,.854],[58,.88],[66,.906],[81.5,.923],[97,.923]],
 [[10,.046],[12.3,.07],[14.5,.094],[17.8,.145],[21,.198],[24.5,.26],[28,.323],[31,.395],[34.6,.469],[39,.545],[43.5,.625],[48,.655],[52.5,.677],[58,.715],[63.6,.75],[68,.77],[72.5,.781],[78,.80],[83.7,.823],[90,.823],[98,.823]]];
const occ080msb = [
 [[1,.506],[4,.535],[7.8,.5625],[12,.59],[16.7,.61],[21,.633],[25.7,.656],[31,.685],[36.8,.719],[42,.765],[48,.823],[53,.855],[59,.885],[66,.915],[73.7,.948],[83,.965],[92.6,.973]],
 [[3.3,.271],[9,.306],[12.8,.345],[16.7,.385],[21,.43],[25.7,.479],[30,.525],[34.6,.573],[40,.625],[45.8,.677],[51,.73],[57,.781],[63,.825],[70,.865],[80,.895],[92.6,.923]],
 [[9,.131],[14.5,.177],[20,.215],[25.7,.26],[31,.325],[36.8,.396],[42,.46],[48,.531],[52.5,.595],[57,.656],[62,.71],[68,.76],[73,.80],[78,.84],[86,.84],[93.75,.84]],
 [[19,.048],[25.7,.083],[32.4,.125],[37,.16],[41.3,.198],[45.5,.26],[50,.323],[54,.375],[57,.417],[60.5,.47],[63.6,.521],[66.5,.55],[69,.573],[72,.59],[76,.598],[81.5,.583],[88,.58],[94.9,.579]]];
const occ100cs = [
 [[0.7,.59],[1.6,.62],[2.5,.646],[3.8,.705],[5,.76],[6.7,.80],[8.5,.833],[11,.87],[14,.906],[18,.925],[23,.9375],[29,.955],[36.4,.973],[43,.985],[49.8,.99],[58,.99],[67.6,.99],[80,.993],[96.7,.996]],
 [[1.8,.36],[2.9,.42],[4,.479],[5,.54],[6.3,.604],[8,.67],[9.6,.729],[11.8,.785],[14,.833],[17,.87],[20.8,.906],[26,.93],[32,.948],[40,.962],[49.8,.973],[60,.976],[72,.979],[85,.982],[97,.985]],
 [[3,.198],[4,.26],[5,.323],[6.7,.385],[8.5,.448],[10,.505],[11.8,.5625],[14,.63],[16.3,.698],[19.5,.755],[23,.802],[27.5,.85],[32,.885],[36.4,.91],[40.8,.927],[49,.945],[58.7,.958],[75,.97],[97,.979]],
 [[5.8,.052],[7.2,.095],[8.5,.135],[10,.195],[11.8,.26],[14,.32],[16.3,.385],[18.5,.47],[20.8,.552],[24,.625],[27.5,.698],[31,.745],[34,.781],[40,.83],[45.3,.865],[52,.89],[58.7,.917],[70,.94],[84,.955],[96.7,.969]]];
const occ100msb = [
 [[0.7,.51],[3,.54],[5,.5625],[8.5,.59],[11.8,.615],[15,.645],[18.5,.677],[23,.72],[27.5,.76],[32,.79],[36.4,.8125],[43,.845],[49.8,.875],[55,.895],[61,.917],[66,.935],[70,.948],[80,.965],[91.7,.985]],
 [[1.8,.281],[4.5,.32],[7.4,.354],[10.5,.41],[14,.469],[18.5,.53],[23,.594],[27.5,.65],[32,.698],[37,.74],[43,.781],[50,.825],[56.5,.865],[63,.9],[70,.927],[80,.95],[92,.969]],
 [[5,.135],[8.5,.18],[11.8,.229],[16,.29],[20.8,.354],[25,.415],[29.7,.479],[34,.54],[38.6,.604],[43,.655],[47.5,.708],[53,.765],[58.7,.823],[65,.865],[72,.896],[83,.93],[94,.958]],
 [[11.8,.056],[15,.09],[18.5,.125],[23,.19],[27.5,.26],[32,.31],[36.4,.365],[40,.45],[43,.531],[47.5,.595],[52,.656],[57,.715],[63.2,.771],[68,.81],[74.3,.854],[85,.865],[95,.871]]];

const panelData = [
  [[age060cs,age060msb],[age065cs,age065msb],[age070cs,age070msb],[age075cs,age075msb],[age080cs,age080msb],[age100cs,age100msb]],
  [[nih060cs,nih060msb],[nih065cs,nih065msb],[nih070cs,nih070msb],[nih075cs,nih075msb],[nih080cs,nih080msb],[nih100cs,nih100msb]],
  [[occ060cs,occ060msb],[occ065cs,occ065msb],[occ070cs,occ070msb],[occ075cs,occ075msb],[occ080cs,occ080msb],[occ100cs,occ100msb]]
];

// ---------------- STYLE / LAYOUT ----------------
const FONT = '"Liberation Sans", Arial, sans-serif';
const methodColors = ['#F8766D','#00BFC4'];
const pointStyles = ['circle','triangle','rect','cross'];
const pointRadii = [3.1,4.3,4.3,3.8];
const dashes = [[],[3,3],[6,3],[6,6]];
const colLeft = [73,240,407,574,741,908];
const rowTop = [63,244,425];
const PW = 159, PH = 172;
const X_MIN = -3.55, X_MAX = 102.87, Y_MIN = -0.028, Y_MAX = 1.045;
const xGrid = [0,12.5,25,37.5,50,62.5,75,87.5,100];
const yGrid = [0,0.125,0.25,0.375,0.5,0.625,0.75,0.875,1];

Chart.defaults.font.family = FONT;
Chart.defaults.animation = false;

const borderPlugin = {
  id: 'panelBorder',
  afterDatasetsDraw(chart) {
    const {ctx, chartArea: a} = chart;
    ctx.save();
    ctx.strokeStyle = '#333333';
    ctx.lineWidth = 1.1;
    ctx.strokeRect(Math.round(a.left) + 0.5, Math.round(a.top) + 0.5, Math.round(a.right - a.left) - 1, Math.round(a.bottom - a.top) - 1);
    ctx.restore();
  }
};

function addText(txt, x, cy, size, opts = {}) {
  const d = document.createElement('div');
  d.className = 't';
  d.textContent = txt;
  const lh = Math.round(size * 2);
  d.style.left = x + 'px';
  d.style.top = (cy - lh / 2) + 'px';
  d.style.height = lh + 'px';
  d.style.lineHeight = lh + 'px';
  d.style.fontSize = size + 'px';
  d.style.color = opts.color || '#000';
  if (opts.transform) d.style.transform = opts.transform;
  if (opts.origin) d.style.transformOrigin = opts.origin;
  document.body.appendChild(d);
  return d;
}

function makePanel(r, c) {
  const isLeft = c === 0, isBottom = r === 2;
  const yW = isLeft ? 40 : 0;
  const xH = isBottom ? 24 : 0;
  const extraL = 16, extraR = 16;
  const cv = document.createElement('canvas');
  const w = extraL + yW + PW + extraR;
  const h = 2 + PH + (isBottom ? xH : 2);
  cv.width = w; cv.height = h;
  cv.style.left = (colLeft[c] - yW - extraL) + 'px';
  cv.style.top = (rowTop[r] - 2) + 'px';
  cv.style.width = w + 'px'; cv.style.height = h + 'px';
  document.body.appendChild(cv);

  const datasets = [];
  const [csSeries, msbSeries] = panelData[r][c];
  [csSeries, msbSeries].forEach((series, m) => {
    series.forEach((pts, p) => {
      const data = pts.map(q => ({x: q[0], y: q[1]}));
      datasets.push({
        data, showLine: true, borderColor: methodColors[m], borderWidth: 1.1,
        borderDash: dashes[p], pointRadius: 0, fill: false, order: 20
      });
      datasets.push({
        data, showLine: false, pointStyle: pointStyles[p], pointRadius: pointRadii[p],
        pointBackgroundColor: methodColors[m], pointBorderColor: methodColors[m],
        pointBorderWidth: p === 3 ? 1.2 : 0, order: m === 0 ? 10 : 5
      });
    });
  });

  const major = v => Math.abs(v % 25) < 1e-9;
  const majorY = v => Math.abs((v * 4) - Math.round(v * 4)) < 1e-9;

  new Chart(cv, {
    type: 'scatter',
    data: { datasets },
    plugins: [borderPlugin],
    options: {
      responsive: false, devicePixelRatio: 1, events: [],
      layout: { autoPadding: false, padding: { left: extraL, right: extraR, top: 2, bottom: isBottom ? 0 : 2 } },
      plugins: { legend: { display: false }, tooltip: { enabled: false } },
      scales: {
        x: {
          type: 'linear', min: X_MIN, max: X_MAX,
          afterBuildTicks: s => { s.ticks = xGrid.map(v => ({value: v})); },
          afterFit: s => { s.height = xH; s.paddingLeft = 0; s.paddingRight = 0; s.paddingTop = 0; s.paddingBottom = 0; },
          ticks: { display: isBottom, autoSkip: false, maxRotation: 0, minRotation: 0, padding: 2,
                   color: '#4D4D4D', font: { size: 13, family: FONT },
                   callback: v => major(v) ? v + '%' : '' },
          grid: { color: '#EBEBEB', lineWidth: ctx => (ctx.tick && major(ctx.tick.value)) ? 1.2 : 0.6,
                  drawTicks: isBottom, tickLength: 4, tickWidth: 1.1,
                  tickColor: ctx => (ctx.tick && major(ctx.tick.value)) ? '#333333' : 'rgba(0,0,0,0)' },
          border: { display: false }
        },
        y: {
          type: 'linear', min: Y_MIN, max: Y_MAX,
          afterBuildTicks: s => { s.ticks = yGrid.map(v => ({value: v})); },
          afterFit: s => { s.width = yW; s.paddingLeft = 0; s.paddingRight = 0; s.paddingTop = 0; s.paddingBottom = 0; },
          ticks: { display: isLeft, autoSkip: false, padding: 3,
                   color: '#4D4D4D', font: { size: 13, family: FONT },
                   callback: v => majorY(v) ? v.toFixed(2) : '' },
          grid: { color: '#EBEBEB', lineWidth: ctx => (ctx.tick && majorY(ctx.tick.value)) ? 1.2 : 0.6,
                  drawTicks: isLeft, tickLength: 4, tickWidth: 1.1,
                  tickColor: ctx => (ctx.tick && majorY(ctx.tick.value)) ? '#333333' : 'rgba(0,0,0,0)' },
          border: { display: false }
        }
      }
    }
  });
}

for (let r = 0; r < 3; r++) for (let c = 0; c < 6; c++) makePanel(r, c);

// strips (top)
thresholds.forEach((t, c) => {
  const d = document.createElement('div');
  d.className = 'strip';
  d.style.left = colLeft[c] + 'px'; d.style.top = '41px';
  d.style.width = PW + 'px'; d.style.height = '23px';
  d.textContent = '..=' + t;
  document.body.appendChild(d);
});
// strips (right)
covariates.forEach((cv, r) => {
  const d = document.createElement('div');
  d.className = 'strip';
  d.style.left = '1066px'; d.style.top = rowTop[r] + 'px';
  d.style.width = '26px'; d.style.height = PH + 'px';
  const s = document.createElement('span');
  s.textContent = cv; s.style.writingMode = 'vertical-rl'; s.style.whiteSpace = 'nowrap';
  d.appendChild(s);
  document.body.appendChild(d);
});

// titles
addText('Trade\u2212off between intervention rate and covariate imbalance (TNK\u2212I)', 72, 18, 18.3);
const xt = addText('% of randomisations intervened', 570, 632, 16, {transform: 'translateX(-50%)'});
const yt = addText('Imbalance at end of trial (p\u2212value)', 17, 330, 16, {transform: 'translate(-50%,0) rotate(-90deg)', origin: '50% 50%'});

// legend
function keySvg(color, p) {
  const ns = 'http://www.w3.org/2000/svg';
  const svg = document.createElementNS(ns, 'svg');
  svg.setAttribute('width', '24'); svg.setAttribute('height', '16');
  svg.style.position = 'absolute';
  const ln = document.createElementNS(ns, 'line');
  ln.setAttribute('x1', '1'); ln.setAttribute('x2', '23'); ln.setAttribute('y1', '8'); ln.setAttribute('y2', '8');
  ln.setAttribute('stroke', color); ln.setAttribute('stroke-width', '1.1');
  if (dashes[p].length) ln.setAttribute('stroke-dasharray', dashes[p].join(','));
  svg.appendChild(ln);
  let shp;
  if (p === 0) { shp = document.createElementNS(ns, 'circle'); shp.setAttribute('cx', '12'); shp.setAttribute('cy', '8'); shp.setAttribute('r', '3.1'); shp.setAttribute('fill', color); }
  else if (p === 1) { shp = document.createElementNS(ns, 'polygon'); shp.setAttribute('points', '12,3.8 15.7,10.2 8.3,10.2'); shp.setAttribute('fill', color); }
  else if (p === 2) { shp = document.createElementNS(ns, 'rect'); shp.setAttribute('x', '9'); shp.setAttribute('y', '5'); shp.setAttribute('width', '6'); shp.setAttribute('height', '6'); shp.setAttribute('fill', color); }
  else { shp = document.createElementNS(ns, 'path'); shp.setAttribute('d', 'M12 4.2 V11.8 M8.2 8 H15.8'); shp.setAttribute('stroke', color); shp.setAttribute('stroke-width', '1.2'); }
  svg.appendChild(shp);
  return svg;
}
addText('Worst\u2212case Percentile', 1117, 222, 16);
const pctY = [251, 276.5, 301.5, 327.5];
percentiles.forEach((lab, p) => {
  const s = keySvg('#000', p); s.style.left = '1118px'; s.style.top = (pctY[p] - 8) + 'px';
  document.body.appendChild(s);
  addText(lab, 1150, pctY[p], 13);
});
addText('Method', 1117, 380, 16);
const mY = [409, 434.5];
methods.forEach((lab, m) => {
  const s = keySvg(methodColors[m], 0); s.style.left = '1118px'; s.style.top = (mY[m] - 8) + 'px';
  document.body.appendChild(s);
  addText(lab, 1150, mY[m], 13);
});
</script>
</body></html>
